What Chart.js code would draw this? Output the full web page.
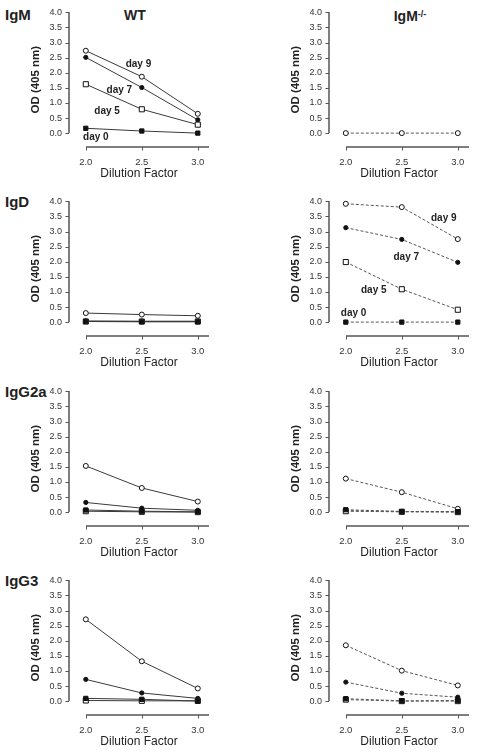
<!DOCTYPE html>
<html>
<head>
<meta charset="utf-8">
<script src="https://cdn.jsdelivr.net/npm/chart.js"></script>
<style>
  body { margin: 0; background: #fff; font-family: "Liberation Sans", Arial, sans-serif; color: #222; }
  #page { position: relative; width: 478px; height: 753px; overflow: hidden; }
  canvas { position: absolute; }
  .rowlab { position: absolute; left: 5px; font-weight: bold; font-size: 15px; line-height: 15px; }
  .head { position: absolute; font-weight: bold; font-size: 14px; line-height: 14px; transform: translateX(-50%); white-space: nowrap; }
  .head sup { font-size: 9px; position: relative; top: -2px; vertical-align: top; }
</style>
</head>
<body>
<div id="page">
  <div class="rowlab" style="top:7px">IgM</div>
  <div class="rowlab" style="top:194px">IgD</div>
  <div class="rowlab" style="top:384px">IgG2a</div>
  <div class="rowlab" style="top:573px">IgG3</div>
  <div class="head" style="left:135px;top:8px">WT</div>
  <div class="head" style="left:410px;top:9px">IgM<sup>-/-</sup></div>
</div>
<script>
// x = dilution factor, y = OD (405 nm)
const dilution = [2.0, 2.5, 3.0];
const xTicks = [2.0, 2.5, 3.0];
const yTicks = [0, 0.5, 1.0, 1.5, 2.0, 2.5, 3.0, 3.5, 4.0];
const days = ['day 0', 'day 5', 'day 7', 'day 9'];

// per panel: [day 0, day 5, day 7, day 9]
const wtIgM   = [[0.16, 0.07, 0.00], [1.62, 0.79, 0.28], [2.51, 1.51, 0.44], [2.73, 1.87, 0.64]];
const koIgM   = [null, null, null, [0.00, 0.00, 0.00]];
const wtIgD   = [[0.02, 0.01, 0.01], [0.02, 0.02, 0.02], [0.04, 0.03, 0.03], [0.30, 0.25, 0.21]];
const koIgD   = [[0.00, 0.00, 0.00], [1.99, 1.09, 0.41], [3.13, 2.74, 1.98], [3.92, 3.81, 2.75]];
const wtIgG2a = [[0.07, 0.03, 0.01], [0.03, 0.01, 0.00], [0.32, 0.13, 0.06], [1.53, 0.80, 0.35]];
const koIgG2a = [[0.08, 0.02, 0.01], [0.03, 0.01, 0.00], [0.05, 0.02, 0.02], [1.11, 0.66, 0.11]];
const wtIgG3  = [[0.09, 0.06, 0.00], [0.02, 0.01, 0.01], [0.72, 0.27, 0.09], [2.71, 1.32, 0.42]];
const koIgG3  = [[0.08, 0.01, 0.02], [0.05, 0.00, 0.00], [0.63, 0.26, 0.13], [1.85, 1.01, 0.52]];

// day labels written inside two panels (data coordinates)
const wtIgMNotes = [['day 9', 2.47, 2.29], ['day 7', 2.30, 1.43], ['day 5', 2.19, 0.71], ['day 0', 2.09, -0.14]];
const koIgDNotes = [['day 9', 2.875, 3.45], ['day 7', 2.54, 2.16], ['day 5', 2.25, 1.07], ['day 0', 2.07, 0.28]];

const markers = [
  { pointStyle: 'rect',   pointRadius: 3,   pointBackgroundColor: '#111' },
  { pointStyle: 'rect',   pointRadius: 3.6, pointBackgroundColor: '#fff' },
  { pointStyle: 'circle', pointRadius: 2.1, pointBackgroundColor: '#111' },
  { pointStyle: 'circle', pointRadius: 2.5, pointBackgroundColor: '#fff' }
];

const panels = [
  { values: wtIgM,   notes: wtIgMNotes, ko: false, left: 0,   top: 0 },
  { values: koIgM,   notes: [],         ko: true,  left: 260, top: 0 },
  { values: wtIgD,   notes: [],         ko: false, left: 0,   top: 189 },
  { values: koIgD,   notes: koIgDNotes, ko: true,  left: 260, top: 189 },
  { values: wtIgG2a, notes: [],         ko: false, left: 0,   top: 379 },
  { values: koIgG2a, notes: [],         ko: true,  left: 260, top: 379 },
  { values: wtIgG3,  notes: [],         ko: false, left: 0,   top: 568 },
  { values: koIgG3,  notes: [],         ko: true,  left: 260, top: 568 }
];

const axisColor = '#555';
const tickLen = 3;

function segment(ctx, x1, y1, x2, y2) {
  ctx.beginPath();
  ctx.moveTo(x1, y1);
  ctx.lineTo(x2, y2);
  ctx.stroke();
}

// SigmaPlot style axes: y line from 0 to 4, x line starting at the first tick, ticks outward
const axisLines = {
  id: 'axisLines',
  afterDraw(chart) {
    const { ctx, chartArea, scales: { x, y } } = chart;
    const lx = Math.round(chartArea.left);
    const by = Math.round(chartArea.bottom);
    ctx.save();
    ctx.strokeStyle = axisColor;
    ctx.lineWidth = 1.5;
    segment(ctx, Math.round(x.getPixelForValue(xTicks[0])), by, chartArea.right, by);
    segment(ctx, lx, Math.round(y.getPixelForValue(yTicks[yTicks.length - 1])), lx, Math.round(y.getPixelForValue(0)));
    ctx.lineWidth = 1;
    xTicks.forEach(v => {
      const px = Math.round(x.getPixelForValue(v)) + 0.5;
      segment(ctx, px, by, px, by + tickLen + 0.5);
    });
    yTicks.forEach(v => {
      const py = Math.round(y.getPixelForValue(v)) + 0.5;
      segment(ctx, lx - tickLen - 0.5, py, lx, py);
    });
    ctx.restore();
  }
};

const dayNotes = {
  id: 'dayNotes',
  afterDatasetsDraw(chart, args, opts) {
    const { ctx, scales: { x, y } } = chart;
    ctx.save();
    ctx.font = 'bold 10px "Liberation Sans", Arial, sans-serif';
    ctx.fillStyle = '#222';
    ctx.textAlign = 'center';
    ctx.textBaseline = 'middle';
    (opts.notes || []).forEach(([t, vx, vy]) => {
      ctx.fillText(t, x.getPixelForValue(vx), y.getPixelForValue(vy));
    });
    ctx.restore();
  }
};

const page = document.getElementById('page');

panels.forEach(p => {
  const canvas = document.createElement('canvas');
  canvas.width = 218;
  canvas.height = 189;
  canvas.style.left = p.left + 'px';
  canvas.style.top = p.top + 'px';
  page.appendChild(canvas);

  const datasets = [];
  p.values.forEach((vals, d) => {
    if (!vals) return;
    datasets.push(Object.assign({
      label: days[d],
      data: dilution.map((v, i) => ({ x: v, y: vals[i] })),
      borderColor: p.ko ? '#555' : '#3a3a3a',
      borderWidth: 1,
      borderDash: p.ko ? [3, 2] : [],
      pointBorderColor: '#111',
      pointBorderWidth: 1,
      tension: 0,
      fill: false
    }, markers[d]));
  });

  new Chart(canvas, {
    type: 'line',
    data: { datasets },
    plugins: [axisLines, dayNotes],
    options: {
      responsive: false,
      animation: false,
      devicePixelRatio: 1,
      clip: false,
      layout: { padding: { left: 0, right: 9, top: 11, bottom: 0 } },
      plugins: {
        legend: { display: false },
        tooltip: { enabled: false },
        dayNotes: { notes: p.notes }
      },
      scales: {
        x: {
          type: 'linear',
          min: 1.85,
          max: 3.1,
          afterBuildTicks: s => { s.ticks = xTicks.map(v => ({ value: v })); },
          afterFit: s => { s.height = 42; },
          border: { display: false },
          grid: { display: false, drawTicks: false },
          ticks: {
            padding: 10,
            color: '#333',
            font: { family: '"Liberation Sans", Arial, sans-serif', size: 9.5 },
            callback: v => v.toFixed(1)
          },
          title: {
            display: true,
            text: 'Dilution Factor',
            color: '#222',
            padding: { top: 0, bottom: 8.5 },
            font: { family: '"Liberation Sans", Arial, sans-serif', size: 12 }
          }
        },
        y: {
          type: 'linear',
          min: -0.46,
          max: 4.0,
          afterBuildTicks: s => { s.ticks = yTicks.map(v => ({ value: v })); },
          afterFit: s => { s.width = 69; },
          border: { display: false },
          grid: { display: false, drawTicks: false },
          ticks: {
            padding: 7,
            color: '#333',
            font: { family: '"Liberation Sans", Arial, sans-serif', size: 9 },
            callback: v => v.toFixed(1)
          },
          title: {
            display: true,
            text: 'OD (405 nm)',
            color: '#222',
            padding: { top: 28.8, bottom: 0 },
            font: { family: '"Liberation Sans", Arial, sans-serif', size: 11.5, weight: 'bold' }
          }
        }
      }
    }
  });
});
</script>
</body>
</html>
